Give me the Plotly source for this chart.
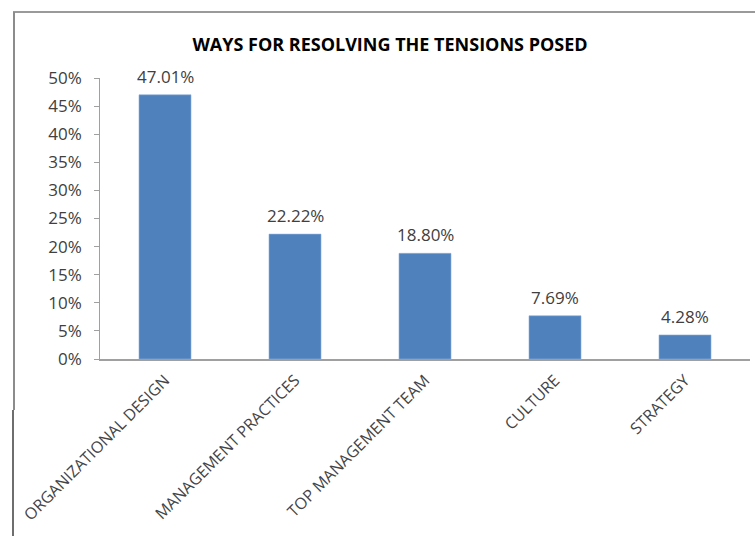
import plotly.graph_objects as go

categories = ["ORGANIZATIONAL DESIGN", "MANAGEMENT PRACTICES", "TOP MANAGEMENT TEAM", "CULTURE", "STRATEGY"]
shares = [0.4701, 0.2222, 0.1880, 0.0769, 0.0428]
value_labels = ["47.01%", "22.22%", "18.80%", "7.69%", "4.28%"]

fig = go.Figure(
    go.Bar(
        x=categories,
        y=shares,
        marker=dict(color="#4F81BD", line=dict(color="#8EB0DA", width=0.6)),
        cliponaxis=False,
    )
)

# value labels above each bar
for cat, val, lab in zip(categories, shares, value_labels):
    fig.add_annotation(
        x=cat, y=val, text=lab, showarrow=False,
        yanchor="bottom", yshift=5,
        font=dict(family="Open Sans", size=17, color="#404040"),
    )

W, H = 755, 536
fig.update_layout(
    width=W,
    height=H,
    margin=dict(l=100, r=5, t=78, b=177),
    plot_bgcolor="white",
    paper_bgcolor="white",
    showlegend=False,
    bargap=0.6,
    title=dict(
        text="<b>WAYS FOR RESOLVING THE TENSIONS POSED</b>",
        x=390 / W,
        xanchor="center",
        y=1 - 45 / H,
        yanchor="middle",
        font=dict(family="Open Sans", size=18, color="#000000"),
    ),
    xaxis=dict(
        tickangle=-45,
        tickfont=dict(family="Open Sans", size=16, color="#444444"),
        ticklabelstandoff=4,
        showline=True,
        linecolor="#A0A0A0",
        linewidth=1.5,
        ticks="",
        showgrid=False,
    ),
    yaxis=dict(
        range=[0, 0.5],
        dtick=0.05,
        tickformat=".0%",
        tickfont=dict(family="Open Sans", size=17, color="#404040"),
        showline=True,
        linecolor="#A0A0A0",
        linewidth=1,
        ticks="outside",
        ticklen=5,
        tickcolor="#A0A0A0",
        showgrid=False,
        zeroline=False,
        ticksuffix="  ",
    ),
)

# Chart frame: pixel position -> paper fraction
def px(x):
    return (x - 100) / 650

def py(y):
    return (359 - y) / 281

# top edge
fig.add_shape(type="line", xref="paper", yref="paper",
              x0=px(13), x1=px(780), y0=py(12), y1=py(12),
              line=dict(color="#9A9A9A", width=2))
# left edge, upper part
fig.add_shape(type="line", xref="paper", yref="paper",
              x0=px(14), x1=px(14), y0=py(12), y1=py(410),
              line=dict(color="#8C8C8C", width=2))
# left edge, darker lower part
fig.add_shape(type="line", xref="paper", yref="paper",
              x0=px(13), x1=px(13), y0=py(410), y1=py(540),
              line=dict(color="#6E6E6E", width=2))

fig.write_html("out.html")
